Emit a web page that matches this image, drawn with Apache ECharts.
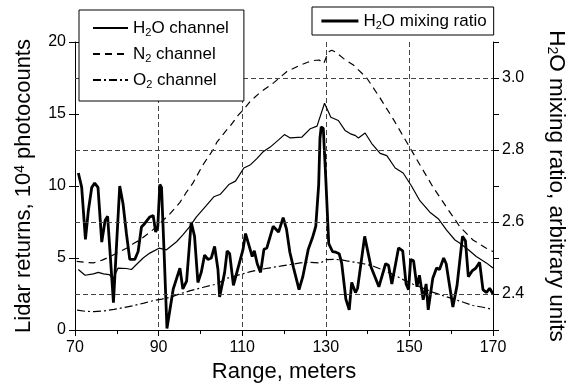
<!DOCTYPE html>
<html><head><meta charset="utf-8">
<script src="https://cdn.jsdelivr.net/npm/echarts@6/dist/echarts.min.js"></script>
<style>html,body{margin:0;padding:0;background:#fff}#c{width:576px;height:388px}</style>
</head><body><div id="c"></div>
<script>
// ---- data ----
const h2oRange = [70.8,72.4,74.4,75.6,76.8,78.2,79.1,80.3,82.3,83.5,84.7,86.3,87.9,90.1,91.9,94.3,95.8,97.4,99.0,101.4,103.2,104.8,106.8,108.4,110.4,112.0,113.5,115.1,116.7,118.7,120.1,121.5,124.3,126.3,127.9,129.7,131.2,133.0,134.6,135.8,137.1,137.8,139.4,141.0,143.0,144.6,146.6,148.5,150.5,152.5,154.9,156.9,158.9,160.9,162.1,164.1,166.0,168.4,170.0];
const h2oChannel = [4.2,3.8,3.9,4.0,3.9,3.85,3.55,4.3,4.27,4.2,4.55,5.0,5.34,5.68,5.57,6.13,6.6,7.16,7.84,8.64,9.25,9.43,10.1,10.34,11.25,11.48,11.9,12.4,12.7,13.2,13.57,13.34,13.4,13.98,14.16,15.75,14.77,14.55,13.86,13.64,13.5,13.34,13.68,12.95,12.27,12.11,11.25,10.9,10.0,8.98,8.18,7.73,6.93,6.25,6.02,5.57,5.11,4.66,4.3];

const n2Range = [70.4,72.5,74.4,76.5,78.4,80.4,82.3,84.0,85.5,87.5,89.5,91.0,92.7,95.1,96.5,98.2,100.6,103.0,104.0,106.2,107.2,109.0,110.4,112.0,114.3,117.5,120.7,123.9,126.7,128.4,129.5,130.6,131.4,132.4,134.2,136.6,139.8,143.0,146.1,149.3,152.5,155.7,158.9,162.1,165.2,168.4,170.0];
const n2Channel = [4.77,4.7,4.66,4.85,5.1,5.4,5.68,6.0,6.25,6.7,7.16,7.6,8.06,8.86,9.5,10.2,11.47,12.5,13.07,13.86,14.2,14.9,15.34,15.9,16.5,17.16,17.95,18.4,18.7,18.75,18.5,19.3,19.43,19.3,18.86,18.4,17.5,16.1,14.66,13.07,11.48,9.9,8.52,7.16,6.25,5.68,5.45];

const o2Range = [70.5,72.5,74.5,77.0,79.3,81.5,84.1,86.5,88.9,90.8,92.8,95.0,97.6,100.5,103.7,106.5,109.6,112.0,114.3,116.7,119.1,121.5,123.9,126.3,128.7,130.2,131.8,133.4,135.0,137.1,139.0,141.4,143.8,146.1,148.5,150.9,153.3,155.7,158.1,160.5,162.9,165.2,167.6,170.0];
const o2Channel = [1.38,1.3,1.27,1.33,1.43,1.55,1.7,1.87,2.05,2.15,2.27,2.5,2.73,2.95,3.18,3.6,3.86,4.05,4.2,4.32,4.43,4.55,4.66,4.7,4.66,4.89,4.9,4.89,4.8,4.7,4.6,4.43,4.15,3.86,3.5,3.18,2.9,2.61,2.38,2.16,1.93,1.7,1.58,1.42];

const ratioRange = [70.8,71.6,72.5,73.2,74.0,74.7,75.5,76.4,77.2,77.8,79.2,80.7,81.5,82.3,83.1,84.3,85.1,85.9,86.7,87.2,87.9,88.7,89.3,89.8,90.3,90.7,91.3,92.0,93.5,95.1,95.8,96.7,97.8,98.6,99.4,100.2,101.0,101.8,102.6,103.4,104.2,104.6,105.8,106.4,107.0,107.9,109.0,110.2,110.8,111.6,112.4,112.9,113.6,114.4,115.2,115.9,117.4,118.7,119.8,120.6,121.4,122.3,123.6,124.5,125.8,126.8,127.6,128.3,128.6,128.9,129.4,130.0,130.7,131.6,132.4,133.2,133.8,134.8,135.6,136.2,137.1,137.6,139.3,140.8,142.7,144.3,145.0,145.8,147.4,148.4,149.2,149.8,150.3,151.0,151.8,152.4,153.3,154.0,154.5,155.6,156.5,157.2,158.2,158.8,160.4,161.4,162.7,163.4,164.1,165.0,165.9,166.8,167.6,168.4,169.2,170.0];
const mixingRatio = [2.736,2.696,2.552,2.632,2.696,2.708,2.696,2.544,2.604,2.616,2.376,2.700,2.650,2.568,2.496,2.496,2.518,2.586,2.596,2.604,2.614,2.618,2.572,2.586,2.704,2.696,2.520,2.304,2.414,2.472,2.414,2.436,2.600,2.560,2.432,2.460,2.508,2.496,2.500,2.532,2.468,2.392,2.460,2.520,2.512,2.424,2.472,2.524,2.568,2.536,2.504,2.520,2.484,2.460,2.524,2.528,2.588,2.572,2.612,2.580,2.516,2.472,2.412,2.448,2.524,2.556,2.588,2.704,2.832,2.864,2.860,2.720,2.540,2.518,2.516,2.512,2.486,2.386,2.356,2.432,2.404,2.416,2.560,2.476,2.420,2.484,2.480,2.428,2.528,2.520,2.428,2.412,2.496,2.492,2.420,2.452,2.384,2.428,2.356,2.444,2.472,2.468,2.500,2.484,2.364,2.424,2.560,2.548,2.448,2.464,2.472,2.488,2.412,2.404,2.416,2.400];

const ratioGridValues = [2.4, 2.6, 2.8, 3.0];
const rangeTicks = {min: 70, max: 170, step: 20};
const countTicks = {min: 0, max: 20, step: 5};
const ratioTicks = {min: 2.3, max: 3.1, step: 0.1};

const zip = (a, b) => a.map((x, i) => [x, b[i]]);
const FONT = 'Liberation Sans, Arial, sans-serif';
const legendLabels = {
  'H2O channel': 'H{sub|2}O channel',
  'N2 channel': 'N{sub|2} channel',
  'O2 channel': 'O{sub|2} channel',
  'H2O mixing ratio': 'H{sub|2}O mixing ratio'
};
const subRich = {
  sub: {fontSize: 11, lineHeight: 8, verticalAlign: 'bottom', fontFamily: FONT, color: '#000'}
};
const hiddenSymbol = {color: 'rgba(0,0,0,0)', borderWidth: 0, opacity: 0};

const chart = echarts.init(document.getElementById('c'), null, {renderer: 'canvas'});
chart.setOption({
  animation: false,
  backgroundColor: '#fff',
  textStyle: {fontFamily: FONT, color: '#000'},
  grid: {left: 75, right: 82, top: 42, bottom: 53, containLabel: false},
  legend: [
    {
      data: ['H2O channel', 'N2 channel', 'O2 channel'],
      orient: 'vertical', left: 79, top: 10,
      itemWidth: 35, itemHeight: 14, itemGap: 6,
      padding: [8, 15, 11, 13],
      backgroundColor: '#fff', borderColor: '#000', borderWidth: 1,
      itemStyle: hiddenSymbol,
      formatter: n => legendLabels[n],
      textStyle: {fontSize: 17, lineHeight: 20, fontFamily: FONT, color: '#000', rich: subRich},
      z: 10
    },
    {
      data: ['H2O mixing ratio'],
      left: 312, top: 7,
      itemWidth: 37, itemHeight: 14,
      padding: [4, 7, 4, 8],
      backgroundColor: '#fff', borderColor: '#000', borderWidth: 1,
      itemStyle: hiddenSymbol,
      lineStyle: {width: 2.8, color: '#000', type: 'solid'},
      formatter: n => legendLabels[n],
      textStyle: {fontSize: 17, lineHeight: 20, fontFamily: FONT, color: '#000', rich: subRich},
      z: 10
    }
  ],
  xAxis: [
    {
      type: 'value', position: 'bottom',
      min: rangeTicks.min, max: rangeTicks.max, interval: rangeTicks.step,
      axisLine: {show: true, lineStyle: {color: '#000', width: 1}},
      axisTick: {show: true, inside: false, length: 6, lineStyle: {color: '#000'}},
      minorTick: {show: true, splitNumber: 2, length: 4, lineStyle: {color: '#000'}},
      axisLabel: {fontSize: 16, color: '#000', margin: 10, fontFamily: FONT},
      splitLine: {show: true, lineStyle: {color: '#444', type: [5, 3], width: 1}},
      name: 'Range, meters', nameLocation: 'middle', nameGap: 31,
      nameTextStyle: {fontSize: 22, color: '#000', fontFamily: FONT}
    },
    {
      type: 'value', position: 'top',
      min: rangeTicks.min, max: rangeTicks.max, interval: rangeTicks.step,
      axisLine: {show: true, lineStyle: {color: '#000', width: 1}},
      axisTick: {show: true, inside: true, length: 5, lineStyle: {color: '#000'}},
      minorTick: {show: true, splitNumber: 2, length: 4, lineStyle: {color: '#000'}},
      axisLabel: {show: false}, splitLine: {show: false}
    }
  ],
  yAxis: [
    {
      type: 'value', position: 'left',
      min: countTicks.min, max: countTicks.max, interval: countTicks.step,
      axisLine: {show: true, lineStyle: {color: '#000', width: 1}},
      axisTick: {show: true, inside: false, length: 6, lineStyle: {color: '#000'}},
      axisLabel: {fontSize: 16, color: '#000', margin: 9, fontFamily: FONT},
      splitLine: {show: false},
      name: 'Lidar returns, 10{sup|4} photocounts', nameLocation: 'middle', nameGap: 40,
      nameTextStyle: {fontSize: 22, color: '#000', fontFamily: FONT,
        rich: {sup: {fontSize: 14, lineHeight: 12, verticalAlign: 'top', fontFamily: FONT, color: '#000'}}}
    },
    {
      type: 'value', position: 'right',
      min: ratioTicks.min, max: ratioTicks.max, interval: ratioTicks.step,
      axisLine: {show: true, lineStyle: {color: '#000', width: 1}},
      axisTick: {show: true, inside: false, length: 6, lineStyle: {color: '#000'}},
      axisLabel: {fontSize: 16, color: '#000', margin: 9, fontFamily: FONT,
        formatter: v => (Math.round(v * 10) % 2 === 0 ? v.toFixed(1) : '')},
      splitLine: {show: false},
      name: 'H{sub|2}O mixing ratio, arbitrary units', nameLocation: 'middle', nameGap: 52, nameRotate: -90,
      nameTextStyle: {fontSize: 22.5, color: '#000', fontFamily: FONT,
        rich: {sub: {fontSize: 14, lineHeight: 10, verticalAlign: 'bottom', fontFamily: FONT, color: '#000'}}}
    },
    {
      type: 'value', position: 'left', offset: 0,
      min: countTicks.min, max: countTicks.max, interval: 2.5,
      axisLine: {show: false},
      axisTick: {show: true, inside: true, length: 4, lineStyle: {color: '#000'}},
      axisLabel: {show: false}, splitLine: {show: false}
    }
  ],
  series: [
    {
      name: 'H2O channel', type: 'line', xAxisIndex: 0, yAxisIndex: 0,
      data: zip(h2oRange, h2oChannel), showSymbol: false, symbol: 'none',
      lineStyle: {color: '#000', width: 1.2, type: 'solid'}, itemStyle: {color: '#000'}
    },
    {
      name: 'N2 channel', type: 'line', xAxisIndex: 0, yAxisIndex: 0,
      data: zip(n2Range, n2Channel), showSymbol: false, symbol: 'none',
      lineStyle: {color: '#000', width: 1.2, type: [7, 5]}, itemStyle: {color: '#000'}
    },
    {
      name: 'O2 channel', type: 'line', xAxisIndex: 0, yAxisIndex: 0,
      data: zip(o2Range, o2Channel), showSymbol: false, symbol: 'none',
      lineStyle: {color: '#000', width: 1.2, type: [8, 3, 2, 3]}, itemStyle: {color: '#000'}
    },
    {
      name: 'H2O mixing ratio', type: 'line', xAxisIndex: 0, yAxisIndex: 1,
      data: zip(ratioRange, mixingRatio), showSymbol: false, symbol: 'none',
      lineStyle: {color: '#000', width: 2.8}, itemStyle: {color: '#000'},
      markLine: {
        silent: true, symbol: 'none', label: {show: false},
        lineStyle: {color: '#444', type: [5, 3], width: 1},
        data: ratioGridValues.map(v => ({yAxis: v}))
      }
    }
  ]
});
</script></body></html>
